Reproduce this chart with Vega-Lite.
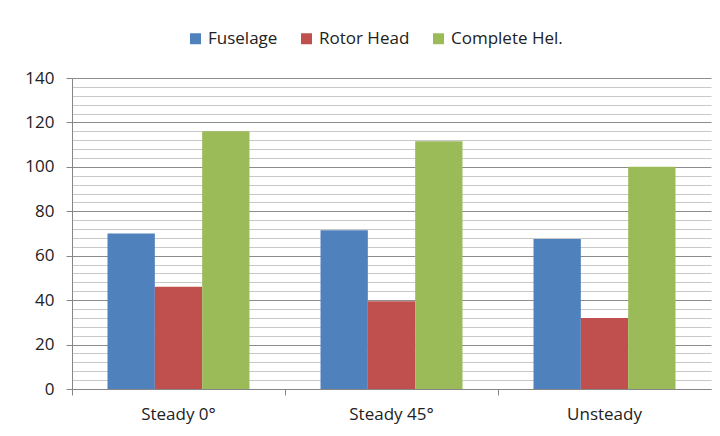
{
  "$schema": "https://vega.github.io/schema/vega-lite/v6.json",
  "autosize": "none",
  "width": 639,
  "height": 311,
  "padding": {"left": 72, "top": 78, "right": 9, "bottom": 47},
  "background": "#ffffff",
  "config": {
    "view": {"stroke": null},
    "font": "Open Sans",
    "axis": {"labelFont": "Open Sans", "labelColor": "#222222", "labelFontSize": 17}
  },
  "data": {
    "values": [
      {"case": "Steady 0°", "part": "Fuselage", "value": 70},
      {"case": "Steady 0°", "part": "Rotor Head", "value": 46},
      {"case": "Steady 0°", "part": "Complete Hel.", "value": 116},
      {"case": "Steady 45°", "part": "Fuselage", "value": 71.5},
      {"case": "Steady 45°", "part": "Rotor Head", "value": 39.5},
      {"case": "Steady 45°", "part": "Complete Hel.", "value": 111.5},
      {"case": "Unsteady", "part": "Fuselage", "value": 67.5},
      {"case": "Unsteady", "part": "Rotor Head", "value": 32},
      {"case": "Unsteady", "part": "Complete Hel.", "value": 100}
    ]
  },
  "mark": {"type": "bar"},
  "encoding": {
    "x": {
      "field": "case",
      "type": "nominal",
      "sort": null,
      "title": null,
      "scale": {"paddingInner": 0, "paddingOuter": 0},
      "axis": {
        "labelAngle": 0,
        "bandPosition": 0,
        "domainColor": "#868686",
        "tickColor": "#868686",
        "tickSize": 6,
        "labelPadding": 11,
        "grid": false
      }
    },
    "xOffset": {
      "field": "part",
      "type": "nominal",
      "sort": ["Fuselage", "Rotor Head", "Complete Hel."],
      "scale": {"paddingInner": 0, "paddingOuter": 0.75}
    },
    "y": {
      "field": "value",
      "type": "quantitative",
      "title": null,
      "scale": {"domain": [0, 140], "nice": false},
      "axis": {
        "values": [0, 4, 8, 12, 16, 20, 24, 28, 32, 36, 40, 44, 48, 52, 56, 60, 64, 68, 72, 76, 80, 84, 88, 92, 96, 100, 104, 108, 112, 116, 120, 124, 128, 132, 136, 140],
        "labelExpr": "datum.value % 20 === 0 ? datum.label : ''",
        "labelOverlap": false,
        "grid": true,
        "gridColor": {"condition": {"test": "datum.value % 20 === 0", "value": "#8c8c8c"}, "value": "#c8c8c8"},
        "gridWidth": 1,
        "tickOpacity": {"condition": {"test": "datum.value % 20 === 0", "value": 1}, "value": 0},
        "tickColor": "#868686",
        "tickSize": 6,
        "domainColor": "#868686",
        "labelPadding": 12
      }
    },
    "color": {
      "field": "part",
      "type": "nominal",
      "sort": ["Fuselage", "Rotor Head", "Complete Hel."],
      "scale": {
        "domain": ["Fuselage", "Rotor Head", "Complete Hel."],
        "range": ["#4F81BD", "#C0504D", "#9BBB59"]
      },
      "legend": {
        "title": null,
        "orient": "none",
        "direction": "horizontal",
        "legendX": 115,
        "legendY": -48,
        "symbolType": "square",
        "symbolSize": 121,
        "symbolStrokeWidth": 0,
        "symbolOpacity": 1,
        "labelFont": "Open Sans",
        "labelFontSize": 17,
        "labelColor": "#222222",
        "labelOffset": 4,
        "columnPadding": 20
      }
    }
  }
}
